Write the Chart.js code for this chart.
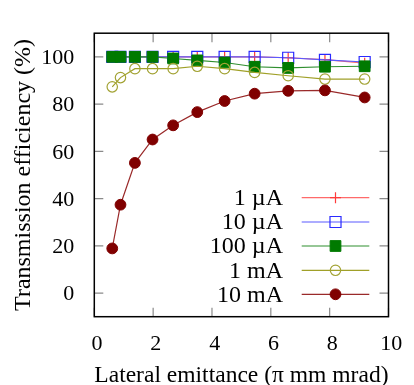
<!DOCTYPE html>
<html>
<head>
<meta charset="utf-8">
<script src="https://cdn.jsdelivr.net/npm/chart.js@4"></script>
<style>
  html, body { margin: 0; padding: 0; background: #fff; }
  #wrap { width: 414px; height: 385px; }
</style>
</head>
<body>
<div id="wrap"><canvas id="chart" width="414" height="385"></canvas></div>
<script>
'use strict';

// ── Data ──────────────────────────────────────────────────────
const emittance = [0.61, 0.89, 1.38, 1.98, 2.68, 3.5, 4.43, 5.45, 6.59, 7.84, 9.19];
const eff1uA   = [100, 100, 100, 100, 100, 100, 100, 100, 99.6, 98.8, 97.3];
const eff10uA  = [100, 100, 100, 100, 100, 100, 100, 100, 99.6, 98.7, 97.8];
const eff100uA = [100, 100, 100, 100, 99.3, 98.5, 97.6, 95.8, 95.3, 95.8, 96];
const eff1mA   = [87.3, 91.2, 95, 95, 95, 96, 95, 93.4, 92, 90.6, 90.6];
const eff10mA  = [18.9, 37.4, 55.1, 65, 71, 76.6, 81.3, 84.4, 85.6, 85.8, 82.8];
const seriesLabels = ['1 \u00b5A', '10 \u00b5A', '100 \u00b5A', '1 mA', '10 mA'];
const xTickValues = [0, 2, 4, 6, 8, 10];
const yTickValues = [0, 20, 40, 60, 80, 100];

const FONT = 'Liberation Serif';

function pts(ys) {
  return emittance.map((x, i) => ({ x, y: ys[i] }));
}

// marker + line style per series (gnuplot-like)
const styles = [
  { line: '#ff6a6a', marker: 'cross',  fill: '#ff3a3a', stroke: '#ff3a3a', r: 5.5, bw: 1.2 },
  { line: '#5a5aff', marker: 'rect',   fill: 'rgba(0,0,0,0)', stroke: '#2a2aff', r: 7.8, bw: 1.2 },
  { line: '#2f8f2f', marker: 'rect',   fill: '#007a00', stroke: '#007a00', r: 7.6, bw: 1 },
  { line: '#a0a028', marker: 'circle', fill: 'rgba(0,0,0,0)', stroke: '#a3a335', r: 5.2, bw: 1.2 },
  { line: '#9a2a2a', marker: 'circle', fill: '#800000', stroke: '#800000', r: 5.4, bw: 1 },
];
const seriesData = [eff1uA, eff10uA, eff100uA, eff1mA, eff10mA];

const datasets = seriesData.map((ys, i) => ({
  label: seriesLabels[i],
  data: pts(ys),
  showLine: true,
  borderColor: styles[i].line,
  borderWidth: 1.2,
  pointStyle: styles[i].marker,
  pointRadius: styles[i].r,
  pointBackgroundColor: styles[i].fill,
  pointBorderColor: styles[i].stroke,
  pointBorderWidth: styles[i].bw,
  order: 5 - i,
}));

// ── Plugin: frame, inward ticks, gnuplot-style key ───────────
const framePlugin = {
  id: 'frame',
  afterDatasetsDraw(chart) {
    const { ctx, chartArea: a, scales } = chart;
    ctx.save();
    ctx.strokeStyle = '#8a8a8a';
    ctx.lineWidth = 1.2;
    const tl = 9;
    ctx.beginPath();
    xTickValues.forEach(v => {
      const px = scales.x.getPixelForValue(v);
      ctx.moveTo(px, a.bottom); ctx.lineTo(px, a.bottom - tl);
      ctx.moveTo(px, a.top);    ctx.lineTo(px, a.top + tl);
    });
    yTickValues.forEach(v => {
      const py = scales.y.getPixelForValue(v);
      ctx.moveTo(a.left, py);  ctx.lineTo(a.left + tl, py);
      ctx.moveTo(a.right, py); ctx.lineTo(a.right - tl, py);
    });
    ctx.stroke();

    ctx.strokeStyle = '#000';
    ctx.lineWidth = 1.5;
    ctx.strokeRect(a.left, a.top, a.right - a.left, a.bottom - a.top);

    // key
    const rowY = [197.7, 222, 246, 270.3, 294.3];
    ctx.font = '24px "' + FONT + '"';
    ctx.fillStyle = '#000';
    ctx.textAlign = 'right';
    ctx.textBaseline = 'middle';
    seriesLabels.forEach((lab, i) => {
      const y = rowY[i];
      const s = styles[i];
      ctx.fillText(lab, 283, y + 1);
      ctx.strokeStyle = s.line;
      ctx.lineWidth = 1.2;
      ctx.beginPath();
      ctx.moveTo(301.7, y); ctx.lineTo(369.3, y);
      ctx.stroke();
      ctx.fillStyle = s.fill;
      ctx.strokeStyle = s.stroke;
      ctx.lineWidth = s.bw;
      Chart.helpers.drawPoint(ctx, { pointStyle: s.marker, radius: s.r, borderWidth: s.bw }, 335.5, y);
      ctx.fillStyle = '#000';
    });
    ctx.restore();
  },
};

// ── Chart ─────────────────────────────────────────────────────
new Chart(document.getElementById('chart'), {
  type: 'scatter',
  data: { datasets },
  options: {
    responsive: false,
    animation: false,
    layout: { padding: { top: 12.3, right: 15.7, left: 0, bottom: 0 } },
    plugins: {
      legend: { display: false },
      tooltip: { enabled: false },
    },
    scales: {
      x: {
        type: 'linear',
        min: 0, max: 10,
        afterBuildTicks: s => { s.ticks = xTickValues.map(v => ({ value: v })); },
        afterFit: s => { s.height = 68.3; },
        grid: { display: false, drawTicks: false },
        border: { display: false },
        ticks: { color: '#000', font: { family: FONT, size: 22 }, padding: 14.5, labelOffset: 2.7, maxRotation: 0 },
        title: {
          display: true,
          text: 'Lateral emittance (\u03c0 mm mrad)',
          color: '#000',
          font: { family: FONT, size: 24 },
          padding: { top: 0, bottom: -5 },
        },
      },
      y: {
        type: 'linear',
        min: -10, max: 110,
        afterBuildTicks: s => { s.ticks = yTickValues.map(v => ({ value: v })); },
        afterFit: s => { s.width = 94.3; },
        grid: { display: false, drawTicks: false },
        border: { display: false },
        ticks: { color: '#000', font: { family: FONT, size: 22 }, padding: 20, labelOffset: 1.5 },
        title: {
          display: true,
          text: 'Transmission efficiency (%)',
          color: '#000',
          font: { family: FONT, size: 24 },
          padding: { top: 9.2, bottom: 0 },
        },
      },
    },
  },
  plugins: [framePlugin],
});
</script>
</body>
</html>
